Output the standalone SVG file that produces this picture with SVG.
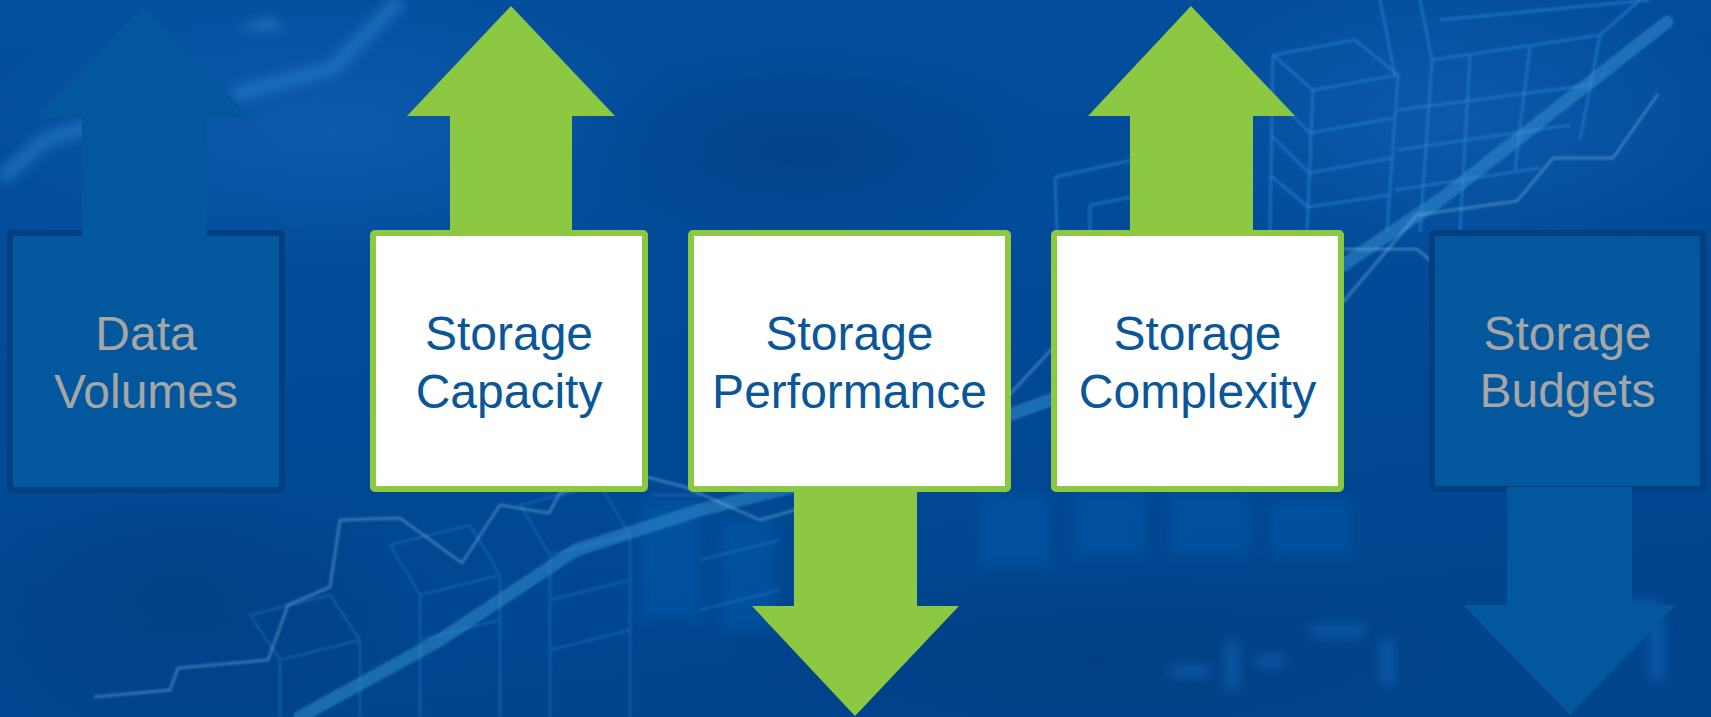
<svg xmlns="http://www.w3.org/2000/svg" width="1711" height="717" viewBox="0 0 1711 717">
  <defs>
    <linearGradient id="bg" x1="0" y1="0" x2="0.3" y2="1">
      <stop offset="0" stop-color="#054f9f"/>
      <stop offset="0.5" stop-color="#024b99"/>
      <stop offset="1" stop-color="#00448d"/>
    </linearGradient>
    <radialGradient id="glow1" cx="0.5" cy="0.5" r="0.5">
      <stop offset="0" stop-color="#1a6bbf" stop-opacity="0.4"/>
      <stop offset="1" stop-color="#1a6bbf" stop-opacity="0"/>
    </radialGradient>
    <radialGradient id="dark1" cx="0.5" cy="0.5" r="0.5">
      <stop offset="0" stop-color="#003c7e" stop-opacity="0.6"/>
      <stop offset="1" stop-color="#003c7e" stop-opacity="0"/>
    </radialGradient>
    <filter id="soft" x="-10%" y="-10%" width="120%" height="120%">
      <feGaussianBlur stdDeviation="1.2"/>
    </filter>
    <filter id="blur6" x="-20%" y="-20%" width="140%" height="140%">
      <feGaussianBlur stdDeviation="6"/>
    </filter>
    <style>
      .boxBlue { fill: #03589d; stroke: #023f80; stroke-width: 6; }
      .boxWhite { fill: #ffffff; stroke: #8dc843; stroke-width: 6; }
      .arrBlue { fill: #03589d; }
      .arrGreen { fill: #8dc843; }
      .lbl { font-family: "Liberation Sans", Arial, Helvetica, sans-serif; font-size: 48px; text-anchor: middle; }
      .lblGray { fill: #a6a6a6; }
      .lblBlue { fill: #0a5699; }
      .trend { fill: none; stroke: #3b98d8; stroke-width: 13; stroke-opacity: 0.45; stroke-linejoin: round; stroke-linecap: round; }
      .thin { fill: none; stroke: #7fb4e2; stroke-width: 3; stroke-opacity: 0.4; stroke-linejoin: round; }
      .grid { fill: none; stroke: #2b86d6; stroke-width: 3; stroke-opacity: 0.5; stroke-linejoin: round; }
      .bar { fill: #0a5fb2; fill-opacity: 0.4; }
    </style>
  </defs>

  <g id="background">
    <rect x="0" y="0" width="1711" height="717" fill="url(#bg)"/>
    <ellipse cx="330" cy="130" rx="360" ry="140" fill="url(#glow1)"/>
    <ellipse cx="1450" cy="120" rx="300" ry="150" fill="url(#glow1)"/>
    <ellipse cx="180" cy="600" rx="260" ry="140" fill="url(#dark1)"/>
    <ellipse cx="1100" cy="660" rx="380" ry="90" fill="url(#dark1)"/>
    <ellipse cx="800" cy="150" rx="260" ry="110" fill="url(#dark1)"/>
    <g filter="url(#blur6)" opacity="0.55">
      <path d="M0,180 L45,140 L110,120" fill="none" stroke="#2a86cf" stroke-width="14"/>
      <path d="M233,95 L333,68 L400,0" fill="none" stroke="#2a86cf" stroke-width="14"/>
      <polygon points="235,28 270,18 285,30" fill="#3b98d8"/>
    </g>
    <g filter="url(#blur6)">
      <rect class="bar" x="640" y="500" width="60" height="120"/>
      <rect class="bar" x="720" y="520" width="55" height="110"/>
      <rect class="bar" x="980" y="495" width="70" height="70"/>
      <rect class="bar" x="1075" y="490" width="70" height="65"/>
      <rect class="bar" x="1170" y="495" width="80" height="60"/>
      <rect class="bar" x="1270" y="500" width="80" height="55"/>
    </g>
    <g class="grid" filter="url(#soft)" opacity="0.6">
      <path d="M250,615 L330,595 L360,640 L280,660 Z M280,660 L280,717 M360,640 L360,717"/>
      <path d="M390,545 L470,525 L500,575 L420,595 Z M420,595 L420,717 M500,575 L500,717 M420,640 L500,620"/>
      <path d="M520,505 L600,485 L630,535 L550,555 Z M550,555 L550,717 M630,535 L630,717 M550,600 L630,580 M550,650 L630,630"/>
      <path d="M650,495 L700,495 M700,560 L780,540 M700,610 L780,590"/>
    </g>
    <g class="grid" filter="url(#soft)">
      <path d="M1273,55 L1355,40 L1398,75 L1313,90 Z"/>
      <path d="M1273,55 L1270,232 M1313,90 L1307,232 M1398,75 L1387,232"/>
      <path d="M1272,95 L1310,133 L1393,118 M1271,135 L1309,173 L1391,158 M1270,175 L1308,207 L1389,195"/>
      <path d="M1055,177 L1133,160 L1168,190 M1055,177 L1057,232 M1090,205 L1090,232 M1090,205 L1168,190"/>
      <path d="M1380,0 L1395,75 M1420,0 L1432,60 L1600,35 L1640,0 M1432,60 L1420,232 M1470,55 L1460,232 M1530,45 L1515,170 M1600,35 L1580,140"/>
      <path d="M1398,110 L1590,85 M1397,150 L1570,125 M1395,190 L1540,168 M1440,20 L1650,0"/>
    </g>
    <path class="trend" filter="url(#soft)" d="M300,717 L440,640 L576,550 L700,510 L860,470 L1050,400 L1200,335 L1343,265 L1440,200 L1667,22"/>
    <path class="thin" filter="url(#soft)" d="M94,697 L170,690 L178,668 L268,660 L288,605 L330,587 L340,520 L400,518 L462,563 L500,505 L549,513 L560,493 L620,470 L685,487 L760,520 L830,500 L900,470 L960,440 L1011,393 L1051,350 L1100,320 L1160,280 L1230,262 L1300,262 L1343,302 L1417,215 L1517,201 L1553,158 L1613,158 L1658,94"/>
    <path class="thin" filter="url(#soft)" d="M1343,249 L1417,249 L1432,262"/>
    <g filter="url(#blur6)" fill="#1a6dc2" opacity="0.5">
      <rect x="1170" y="665" width="40" height="12"/>
      <rect x="1225" y="640" width="14" height="50"/>
      <rect x="1255" y="655" width="30" height="12"/>
      <rect x="1310" y="625" width="55" height="12"/>
      <rect x="1380" y="640" width="14" height="45"/>
      <rect x="1600" y="600" width="60" height="12"/>
      <rect x="1650" y="620" width="14" height="60"/>
    </g>
  </g>

  <g id="node-data-volumes">
    <rect class="boxBlue" x="10" y="233" width="272" height="257" rx="2"/>
    <text class="lbl lblGray" x="146" y="350">Data</text>
    <text class="lbl lblGray" x="146" y="408">Volumes</text>
  </g>

  <g id="node-storage-capacity">
    <rect class="boxWhite" x="373" y="233" width="272" height="256" rx="2"/>
    <text class="lbl lblBlue" x="509" y="350">Storage</text>
    <text class="lbl lblBlue" x="509" y="408">Capacity</text>
  </g>

  <g id="node-storage-performance">
    <rect class="boxWhite" x="691" y="233" width="317" height="256" rx="2"/>
    <text class="lbl lblBlue" x="849.5" y="350">Storage</text>
    <text class="lbl lblBlue" x="849.5" y="408">Performance</text>
  </g>

  <g id="node-storage-complexity">
    <rect class="boxWhite" x="1054" y="233" width="287" height="256" rx="2"/>
    <text class="lbl lblBlue" x="1197.5" y="350">Storage</text>
    <text class="lbl lblBlue" x="1197.5" y="408">Complexity</text>
  </g>

  <g id="node-storage-budgets">
    <rect class="boxBlue" x="1432" y="233" width="271" height="256" rx="2"/>
    <text class="lbl lblGray" x="1567.5" y="350">Storage</text>
    <text class="lbl lblGray" x="1567.5" y="407">Budgets</text>
  </g>

  <g id="connectors">
    <polygon class="arrBlue" points="144,5 249,117 207,117 207,236 82,236 82,117 38,117"/>
    <polygon class="arrGreen" points="511,6 615,116 572,116 572,233 450,233 450,116 407,116"/>
    <polygon class="arrGreen" points="855,716 959,606 917,606 917,489 794,489 794,606 752,606"/>
    <polygon class="arrGreen" points="1191,6 1295,116 1253,116 1253,233 1130,233 1130,116 1088,116"/>
    <polygon class="arrBlue" points="1570,715 1676,605 1632,605 1632,487 1507,487 1507,605 1463,605"/>
  </g>
</svg>
